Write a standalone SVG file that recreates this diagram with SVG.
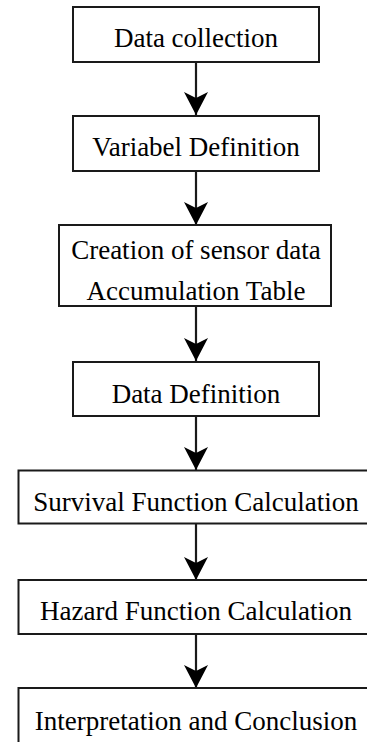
<svg xmlns="http://www.w3.org/2000/svg" width="367" height="742" viewBox="0 0 367 742">
<defs>
<style>
.box{fill:#fff;stroke:#1a1a1a;stroke-width:2}
.t{font-family:"Liberation Serif","Times New Roman",serif;font-size:27px;fill:#000;text-anchor:middle}
.c{stroke:#1a1a1a;stroke-width:2.2;fill:none}
</style>
<marker id="ah" markerUnits="userSpaceOnUse" markerWidth="26" markerHeight="26" viewBox="-24 -13 26 26" refX="0" refY="0" orient="auto" overflow="visible">
<path d="M0 0 L-23 -12 L-17 0 L-23 12 Z" fill="#000"/>
</marker>
</defs>
<rect width="367" height="742" fill="#fff"/>
<g id="connectors">
<line class="c" x1="196" y1="62" x2="196" y2="115" marker-end="url(#ah)"/>
<line class="c" x1="196" y1="171" x2="196" y2="225" marker-end="url(#ah)"/>
<line class="c" x1="196" y1="306" x2="196" y2="361" marker-end="url(#ah)"/>
<line class="c" x1="196" y1="416" x2="196" y2="470" marker-end="url(#ah)"/>
<line class="c" x1="196" y1="524" x2="196" y2="580" marker-end="url(#ah)"/>
<line class="c" x1="196" y1="634" x2="196" y2="688" marker-end="url(#ah)"/>
</g>
<g id="n1"><rect class="box" x="73" y="7" width="246" height="55"/><text class="t" x="196" y="46.5">Data collection</text></g>
<g id="n2"><rect class="box" x="73" y="116" width="246" height="55"/><text class="t" x="196" y="155.5">Variabel Definition</text></g>
<g id="n3"><rect class="box" x="59" y="225" width="272" height="81"/><text class="t" x="196" y="259">Creation of sensor data</text><text class="t" x="196" y="300">Accumulation Table</text></g>
<g id="n4"><rect class="box" x="73" y="362" width="246" height="54"/><text class="t" x="196" y="403">Data Definition</text></g>
<g id="n5"><rect class="box" x="18.5" y="470.5" width="360" height="53"/><text class="t" x="196" y="510.5">Survival Function Calculation</text></g>
<g id="n6"><rect class="box" x="18.5" y="580" width="360" height="54"/><text class="t" x="196" y="620">Hazard Function Calculation</text></g>
<g id="n7"><rect class="box" x="18.5" y="688" width="360" height="70"/><text class="t" x="196" y="730">Interpretation and Conclusion</text></g>
</svg>
